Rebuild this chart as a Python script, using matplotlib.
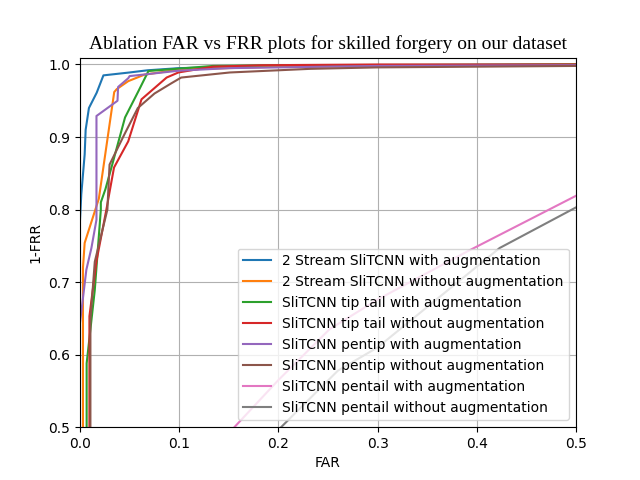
import numpy as np
import matplotlib
matplotlib.use('Agg')
import matplotlib.pyplot as plt

# Valores (FAR, 1-FRR)
far_2s_aug = [0.0, 0.0013, 0.0047, 0.0057, 0.009, 0.0168, 0.0236, 0.05, 0.068, 0.1, 0.2, 0.3, 0.5]
tar_2s_aug = [0.786, 0.821, 0.876, 0.910, 0.940, 0.961, 0.985, 0.989, 0.992, 0.995, 0.998, 0.999, 1.0]

far_2s_noaug = [0.003, 0.003, 0.0047, 0.019, 0.0345, 0.037, 0.0486, 0.065, 0.1, 0.2, 0.5]
tar_2s_noaug = [0.5, 0.72, 0.754, 0.815, 0.962, 0.966, 0.977, 0.986, 0.993, 0.997, 1.0]

far_tt_aug = [0.0067, 0.0067, 0.0149, 0.021, 0.021, 0.0256, 0.0317, 0.0454, 0.0588, 0.069, 0.134, 0.2, 0.5]
tar_tt_aug = [0.5, 0.588, 0.689, 0.80, 0.81, 0.828, 0.858, 0.927, 0.963, 0.991, 0.998, 0.999, 1.0]

far_tt_noaug = [0.0095, 0.0095, 0.0166, 0.0266, 0.0299, 0.0343, 0.0486, 0.062, 0.0755, 0.0873, 0.0992, 0.134, 0.184, 0.3, 0.5]
tar_tt_noaug = [0.5, 0.653, 0.729, 0.80, 0.825, 0.858, 0.894, 0.952, 0.968, 0.982, 0.989, 0.997, 0.999, 1.0, 1.0]

far_pt_aug = [0.0, 0.0064, 0.0115, 0.0166, 0.0166, 0.0378, 0.0384, 0.0486, 0.05, 0.1, 0.151, 0.3, 0.5]
tar_pt_aug = [0.644, 0.717, 0.747, 0.786, 0.929, 0.950, 0.969, 0.981, 0.984, 0.9915, 0.995, 0.998, 0.999]

far_pt_noaug = [0.0105, 0.0105, 0.0149, 0.0276, 0.0298, 0.0449, 0.0583, 0.0751, 0.092, 0.102, 0.151, 0.232, 0.3, 0.5]
tar_pt_noaug = [0.5, 0.648, 0.728, 0.80, 0.862, 0.904, 0.940, 0.960, 0.974, 0.982, 0.989, 0.994, 0.996, 0.998]

far_pl_aug = [0.1556, 0.2, 0.2515, 0.3, 0.39, 0.5]
tar_pl_aug = [0.5, 0.565, 0.635, 0.676, 0.742, 0.819]

far_pl_noaug = [0.2027, 0.26, 0.3, 0.423, 0.5]
tar_pl_noaug = [0.5, 0.578, 0.61, 0.747, 0.803]

curvas = [
    (far_2s_aug, tar_2s_aug, '2 Stream SliTCNN with augmentation'),
    (far_2s_noaug, tar_2s_noaug, '2 Stream SliTCNN without augmentation'),
    (far_tt_aug, tar_tt_aug, 'SliTCNN tip tail with augmentation'),
    (far_tt_noaug, tar_tt_noaug, 'SliTCNN tip tail without augmentation'),
    (far_pt_aug, tar_pt_aug, 'SliTCNN pentip with augmentation'),
    (far_pt_noaug, tar_pt_noaug, 'SliTCNN pentip without augmentation'),
    (far_pl_aug, tar_pl_aug, 'SliTCNN pentail with augmentation'),
    (far_pl_noaug, tar_pl_noaug, 'SliTCNN pentail without augmentation'),
]

plt.figure(figsize=(6.4, 4.8), dpi=100)
for far, tar, etiqueta in curvas:
    plt.plot(far, tar, label=etiqueta)
plt.xlim(0, 0.5)
plt.ylim(0.5, 1.0095)
plt.grid(True)
plt.xlabel('FAR')
plt.ylabel('1-FRR')
plt.title('Ablation FAR vs FRR plots for skilled forgery on our dataset',
          family='Liberation Serif', fontsize=14)
plt.legend(loc='lower right')
plt.savefig('out.png')
plt.close()
